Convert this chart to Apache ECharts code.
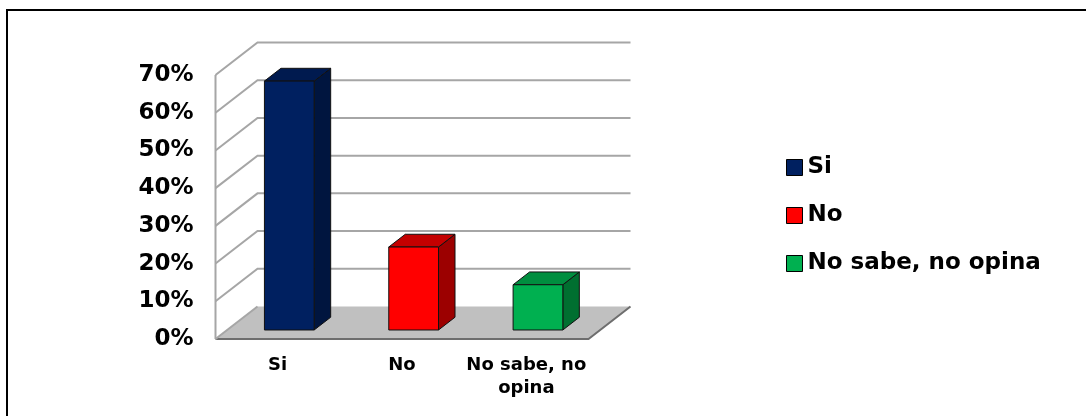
<!DOCTYPE html>
<html>
<head>
<meta charset="utf-8">
<script src="https://cdn.jsdelivr.net/npm/echarts@6/dist/echarts.min.js"></script>
<style>
html,body{margin:0;padding:0;background:#fff;}
#chart{width:1086px;height:416px;}
</style>
</head>
<body>
<div id="chart"></div>
<script>
// ---- data ----
var categories = ['Si', 'No', 'No sabe, no opina'];
var values = [66, 22, 12];
var yTicks = [0, 10, 20, 30, 40, 50, 60, 70];

// ---- styles ----
var frontColors = ['#002060', '#ff0000', '#00b050'];
var topColors = ['#001a4f', '#c40000', '#008e3f'];
var sideColors = ['#00153f', '#9c0000', '#006f30'];

var DX = 42, DY = -32.5;     // depth of the 3D box
var F1 = 0.277, F2 = 0.67;   // bar front / back depth fractions
var FONT = 'DejaVu Sans';

var chart = echarts.init(document.getElementById('chart'));

function wallRender(params, api) {
  var cs = params.coordSys;
  var x0 = cs.x, x1 = cs.x + cs.width;
  var v = api.value(0);
  var y = api.coord([0, v])[1];
  var children = [];
  if (params.dataIndex === 0) {
    children.push({
      type: 'polygon',
      shape: { points: [[x0, y], [x1, y], [x1 + DX, y + DY], [x0 + DX, y + DY]] },
      style: { fill: '#c0c0c0', stroke: null }
    });
    children.push({
      type: 'polyline',
      shape: { points: [[x0, y], [x1, y], [x1 + DX, y + DY]] },
      style: { stroke: '#6e6e6e', lineWidth: 2, fill: null }
    });
    var yTop = api.coord([0, yTicks[yTicks.length - 1]])[1];
    children.push({
      type: 'line',
      shape: { x1: x0, y1: y, x2: x0, y2: yTop },
      style: { stroke: '#a6a6a6', lineWidth: 2 }
    });
    children.push({
      type: 'line',
      shape: { x1: x0, y1: y, x2: x0 + DX, y2: y + DY },
      style: { stroke: '#a6a6a6', lineWidth: 2 }
    });
  } else {
    children.push({
      type: 'polyline',
      shape: { points: [[x0, y], [x0 + DX, y + DY], [x1 + DX, y + DY]] },
      style: { stroke: '#a6a6a6', lineWidth: 2, fill: null }
    });
  }
  return { type: 'group', children: children };
}

function makeBarRender(k) {
  return function (params, api) {
    var i = api.value(0), v = api.value(1);
    var base = api.coord([i, 0]);
    var topPt = api.coord([i, v]);
    var w = api.size([1, 0])[0] * 0.4;
    var cx = base[0] + F1 * DX;
    var yb = base[1] + F1 * DY;
    var yt = topPt[1] + F1 * DY;
    var xl = cx - w / 2, xr = cx + w / 2;
    var ddx = (F2 - F1) * DX, ddy = (F2 - F1) * DY;
    var stroke = { stroke: '#111', lineWidth: 1, lineJoin: 'round' };
    return {
      type: 'group',
      children: [
        { type: 'polygon', shape: { points: [[xr, yt], [xr + ddx, yt + ddy], [xr + ddx, yb + ddy], [xr, yb]] },
          style: Object.assign({ fill: sideColors[k] }, stroke) },
        { type: 'polygon', shape: { points: [[xl, yt], [xr, yt], [xr + ddx, yt + ddy], [xl + ddx, yt + ddy]] },
          style: Object.assign({ fill: topColors[k] }, stroke) },
        { type: 'rect', shape: { x: xl, y: yt, width: w, height: yb - yt },
          style: Object.assign({ fill: frontColors[k] }, stroke) }
      ]
    };
  };
}

var series = [{
  type: 'custom',
  name: 'wall',
  renderItem: wallRender,
  data: yTicks.map(function (t) { return [t]; }),
  encode: { y: 0 },
  silent: true,
  z: 1
}];
categories.forEach(function (c, k) {
  series.push({
    type: 'custom',
    name: c,
    renderItem: makeBarRender(k),
    itemStyle: { color: frontColors[k] },
    data: [[k, values[k]]],
    encode: { x: 0, y: 1 },
    z: 5
  });
});

chart.setOption({
  animation: false,
  backgroundColor: '#fff',
  graphic: [{
    type: 'rect',
    shape: { x: 7, y: 10, width: 1200, height: 500 },
    style: { fill: null, stroke: '#000', lineWidth: 2 },
    z: 100
  }],
  grid: { left: 215.5, right: 1086 - 588.5, top: 75, bottom: 77, containLabel: false },
  legend: {
    orient: 'vertical',
    left: 786, top: 156,
    padding: 0,
    itemWidth: 16, itemHeight: 16, itemGap: 25,
    icon: 'rect',
    data: categories,
    itemStyle: { borderColor: '#000', borderWidth: 1 },
    textStyle: { fontFamily: FONT, fontWeight: 'bold', fontSize: 23, color: '#000' }
  },
  xAxis: {
    type: 'category',
    data: categories,
    axisLine: { show: false },
    axisTick: { show: false },
    axisLabel: {
      margin: 15,
      interval: 0,
      fontFamily: FONT, fontWeight: 'bold', fontSize: 18, lineHeight: 23, color: '#000',
      formatter: function (v) { return v.replace(', no ', ', no\n'); }
    }
  },
  yAxis: {
    type: 'value',
    min: 0, max: 70, interval: 10,
    axisLine: { show: false },
    axisTick: { show: false },
    splitLine: { show: false },
    axisLabel: {
      margin: 22,
      fontFamily: FONT, fontWeight: 'bold', fontSize: 23, color: '#000',
      formatter: '{value}%'
    }
  },
  series: series
});
</script>
</body>
</html>
